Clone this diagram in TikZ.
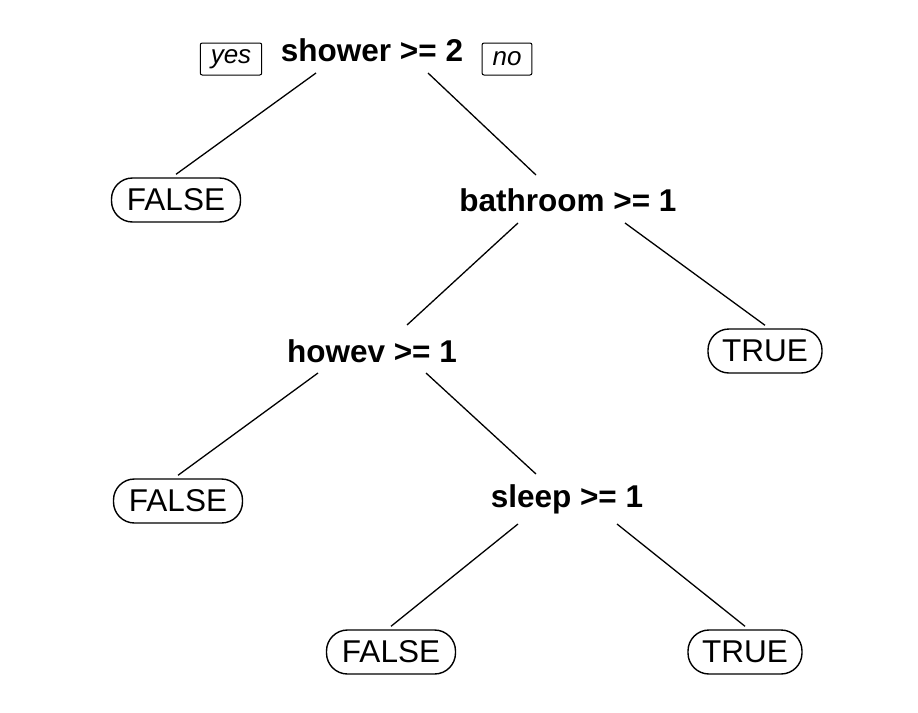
\documentclass[tikz,border=0pt]{standalone}
\usepackage{fontspec}
\setmainfont{Liberation Sans}
\usetikzlibrary{calc}
\begin{document}
\begin{tikzpicture}[x=1pt,y=-1pt,
  split/.style={font=\fontsize{31.5}{34}\selectfont\bfseries, inner sep=0pt},
  leaf/.style={draw, line width=1.4pt, rounded corners=21pt, minimum height=44pt, inner xsep=6pt, inner ysep=0pt, font=\fontsize{31.5}{34}\selectfont},
  tag/.style={draw, line width=1pt, rounded corners=2pt, minimum height=32pt, inner xsep=10.5pt, inner ysep=0pt, font=\fontsize{26}{28}\selectfont\itshape},
  edge/.style={line width=1.3pt}]
\useasboundingbox (0,0) rectangle (918,712);
\node[split] (s) at (372,50) {shower >= 2};
\node[tag] (yes) at (231,59) {yes};
\node[tag] (no) at (507,59) {no};
\node[leaf, minimum width=129pt] (f1) at (176,200) {FALSE};
\node[split] (b) at (568,200) {bathroom >= 1};
\node[leaf, minimum width=114pt] (t1) at (765,351) {TRUE};
\node[split] (h) at (372,351) {howev >= 1};
\node[leaf, minimum width=129pt] (f2) at (178,501) {FALSE};
\node[split] (sl) at (567,499) {sleep >= 1};
\node[leaf, minimum width=129pt] (f3) at (391,652) {FALSE};
\node[leaf, minimum width=114pt] (t3) at (745,652) {TRUE};
\draw[edge] ($(s)+(-56,23)$) -- ($(f1.north)+(0,-3)$);
\draw[edge] ($(s)+(56,23)$) -- ($(b)+(-32,-25)$);
\draw[edge] ($(b)+(-50,23)$) -- ($(h)+(35,-26)$);
\draw[edge] ($(b)+(57,23)$) -- ($(t1.north)+(0,-3)$);
\draw[edge] ($(h)+(-54,22)$) -- ($(f2.north)+(0,-3)$);
\draw[edge] ($(h)+(54,22)$) -- ($(sl)+(-31,-25)$);
\draw[edge] ($(sl)+(-49,25)$) -- ($(f3.north)+(0,-3)$);
\draw[edge] ($(sl)+(50,25)$) -- ($(t3.north)+(0,-3)$);
\end{tikzpicture}
\end{document}
